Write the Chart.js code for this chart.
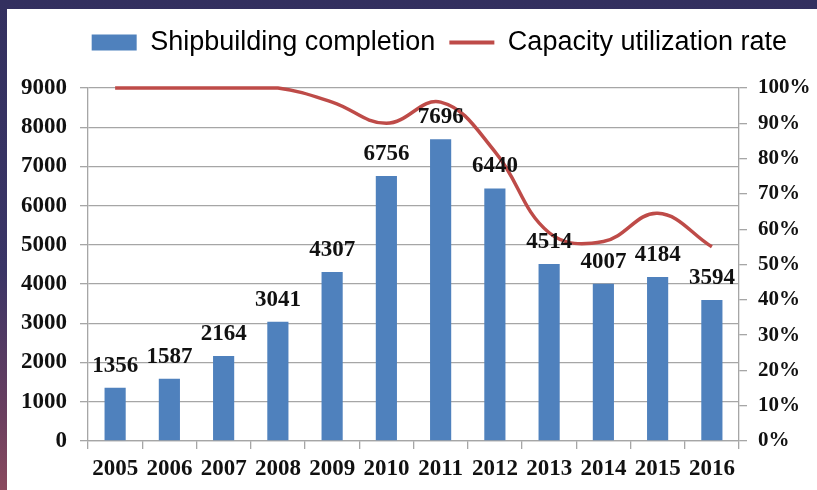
<!DOCTYPE html>
<html>
<head>
<meta charset="utf-8">
<script src="https://cdn.jsdelivr.net/npm/chart.js@4/dist/chart.umd.min.js"></script>
<style>
  html, body { margin: 0; padding: 0; }
  body {
    width: 817px; height: 490px; overflow: hidden; position: relative;
    background: linear-gradient(180deg, #33305f 0%, #3a3566 55%, #6b3f5f 85%, #8a4a5e 100%);
  }
  #wrap {
    position: absolute; left: 7px; top: 9px; width: 810px; height: 481px; background: #ffffff;
  }
</style>
</head>
<body>
<div id="wrap"><canvas id="c"></canvas></div>
<script>
const categories = ['2005','2006','2007','2008','2009','2010','2011','2012','2013','2014','2015','2016'];
const completion = [1356, 1587, 2164, 3041, 4307, 6756, 7696, 6440, 4514, 4007, 4184, 3594];
const utilization = [1.00, 1.00, 1.00, 1.00, 0.96, 0.90, 0.96, 0.82, 0.59, 0.565, 0.645, 0.55];
const seriesNames = ['Shipbuilding completion', 'Capacity utilization rate'];

const tickFont = { family: '"Liberation Serif", serif', size: 23, weight: 'bold' };
const rightTickFont = { family: '"Liberation Serif", serif', size: 21, weight: 'bold' };
const gridGray = '#a6a6a6';

const labelPlugin = {
  id: 'barLabels',
  afterDatasetsDraw(chart) {
    const meta = chart.getDatasetMeta(0);
    const ctx = chart.ctx;
    ctx.save();
    ctx.font = 'bold 23px "Liberation Serif", serif';
    ctx.fillStyle = '#111111';
    ctx.textAlign = 'center';
    ctx.textBaseline = 'middle';
    meta.data.forEach((bar, i) => {
      ctx.fillText(String(completion[i]), bar.x, bar.y - 22);
    });
    ctx.restore();
  }
};

const legendTweak = {
  id: 'legendTweak',
  beforeInit(chart) {
    const lg = chart.legend;
    if (!lg) return;
    const orig = lg.fit;
    lg.fit = function () { orig.call(this); this.height += 22; };
  },
  afterLayout(chart) {
    const lg = chart.legend;
    if (lg) { lg.right -= 16; lg.width -= 16; }
  }
};

new Chart(document.getElementById('c'), {
  data: {
    labels: categories,
    datasets: [
      {
        type: 'bar',
        label: seriesNames[0],
        data: completion,
        yAxisID: 'y',
        backgroundColor: '#4f81bd',
        borderWidth: 0,
        barPercentage: 0.39,
        categoryPercentage: 1.0,
        order: 2
      },
      {
        type: 'line',
        label: seriesNames[1],
        data: utilization,
        yAxisID: 'y1',
        borderColor: '#be4b48',
        backgroundColor: '#be4b48',
        borderWidth: 3.5,
        pointRadius: 0,
        tension: 0.4,
        clip: false,
        order: 1
      }
    ]
  },
  options: {
    responsive: true,
    maintainAspectRatio: false,
    animation: false,
    layout: { padding: { top: 6, right: 0, left: 0, bottom: 0 } },
    plugins: {
      tooltip: { enabled: false },
      legend: {
        position: 'top',
        align: 'end',
        labels: {
          font: { family: '"Liberation Sans", Arial, sans-serif', size: 27 },
          color: '#1a1a1a',
          usePointStyle: true,
          pointStyleWidth: 45,
          boxHeight: 16,
          padding: 14,
          sort: (a, b) => a.datasetIndex - b.datasetIndex,
          generateLabels(chart) {
            return chart.data.datasets.map((ds, i) => ({
              text: ds.label,
              datasetIndex: i,
              fillStyle: ds.backgroundColor,
              strokeStyle: ds.type === 'line' ? ds.borderColor : ds.backgroundColor,
              lineWidth: ds.type === 'line' ? 4 : 0,
              pointStyle: ds.type === 'line' ? 'line' : 'rect',
              hidden: false
            }));
          }
        }
      }
    },
    scales: {
      x: {
        offset: true,
        grid: { display: true, drawOnChartArea: false, offset: true, tickLength: 8, color: gridGray, lineWidth: 1.3 },
        border: { color: gridGray, width: 1.3 },
        ticks: { font: tickFont, color: '#111111', padding: 6, maxRotation: 0, autoSkip: false },
        afterFit(scale) { scale.height = 49; }
      },
      y: {
        position: 'left',
        min: 0, max: 9000,
        ticks: { stepSize: 1000, font: tickFont, color: '#111111', padding: 13, callback: v => String(v) },
        grid: { color: gridGray, lineWidth: 1.3, tickLength: 8 },
        border: { color: gridGray, width: 1.3 },
        afterFit(scale) { scale.width = 81; }
      },
      y1: {
        position: 'right',
        min: 0, max: 1,
        ticks: {
          stepSize: 0.1, font: rightTickFont, color: '#111111', padding: 11,
          callback: v => Math.round(v * 100) + '%'
        },
        grid: { drawOnChartArea: false, color: gridGray, lineWidth: 1.3, tickLength: 8 },
        border: { color: gridGray, width: 1.3 },
        afterFit(scale) { scale.width = 78; }
      }
    }
  },
  plugins: [labelPlugin, legendTweak]
});
</script>
</body>
</html>
